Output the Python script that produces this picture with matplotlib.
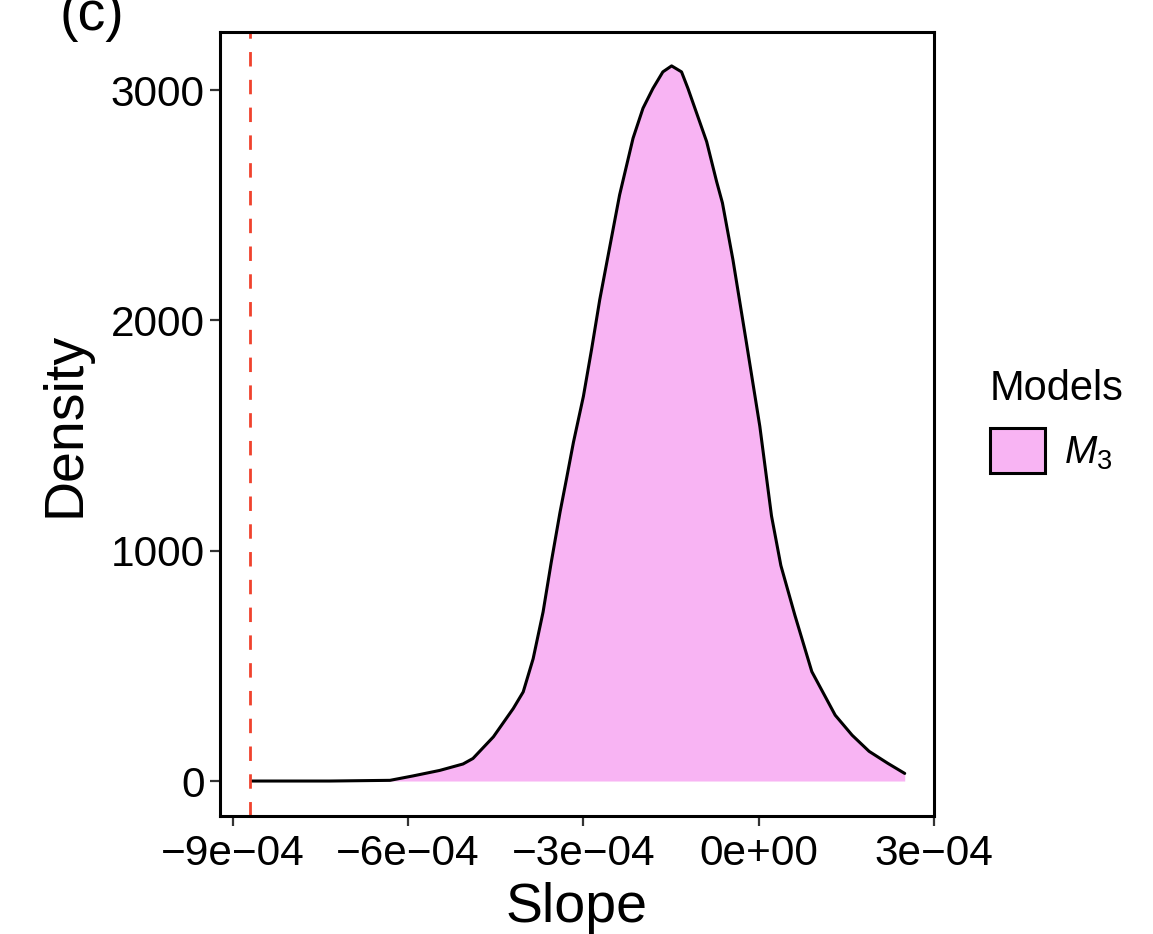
import matplotlib
matplotlib.use("Agg")
import matplotlib.pyplot as plt
from matplotlib.patches import Patch

plt.rcParams['font.family'] = ['Liberation Sans', 'DejaVu Sans']
plt.rcParams['mathtext.fontset'] = 'custom'
plt.rcParams['mathtext.rm'] = 'Liberation Sans'
plt.rcParams['mathtext.it'] = 'Liberation Sans:italic'

# posterior density of the slope
slope = [-8.67e-4, -7.34e-4, -6.31e-4, -5.92e-4, -5.46e-4, -5.06e-4, -4.89e-4,
         -4.54e-4, -4.20e-4, -4.03e-4, -3.86e-4, -3.69e-4, -3.55e-4, -3.40e-4,
         -3.29e-4, -3.17e-4, -3.00e-4, -2.86e-4, -2.72e-4, -2.38e-4, -2.15e-4,
         -1.98e-4, -1.81e-4, -1.64e-4, -1.49e-4, -1.32e-4, -1.21e-4, -1.07e-4,
         -0.89e-4, -0.72e-4, -0.62e-4, -0.44e-4, -0.21e-4, 0.02e-4, 0.22e-4,
         0.38e-4, 0.62e-4, 0.91e-4, 1.31e-4, 1.60e-4, 1.89e-4, 2.21e-4, 2.50e-4]
density = [0, 0, 3, 22, 46, 74, 98,
           192, 315, 387, 531, 734, 950, 1167,
           1311, 1471, 1670, 1874, 2090, 2545, 2791,
           2921, 3007, 3079, 3105, 3079, 3007, 2906,
           2776, 2603, 2510, 2263, 1904, 1540, 1151,
           936, 720, 475, 286, 199, 129, 77, 33]
ref_line = -8.70e-4
xticks = [-9e-4, -6e-4, -3e-4, 0, 3e-4]
xticklabels = ['\u22129e\u221204', '\u22126e\u221204', '\u22123e\u221204', '0e+00', '3e\u221204']
yticks = [0, 1000, 2000, 3000]

fill_col = '#F8B4F3'

fig = plt.figure(figsize=(11.53, 9.34), dpi=100)
ax = fig.add_axes([0.1908, 0.1263, 0.6192, 0.8394])

ax.fill_between(slope, density, 0, color=fill_col, lw=0)
ax.plot(slope, density, color='black', lw=2.2, solid_joinstyle='round', solid_capstyle='round')
ax.axvline(ref_line, color='#F0422D', lw=2.0, linestyle=(0, (5.2, 4.8)))

ax.set_xlim(-9.22e-4, 3.0e-4)
ax.set_ylim(-152, 3252)
ax.set_xticks(xticks)
ax.set_xticklabels(xticklabels)
ax.set_yticks(yticks)
ax.tick_params(labelsize=30.5, length=7, width=1.6, color='#333333')
ax.tick_params(axis='x', pad=6)
ax.tick_params(axis='y', pad=4)
for s in ax.spines.values():
    s.set_linewidth(2.2)

ax.set_xlabel('Slope', fontsize=40, labelpad=6)
ax.set_ylabel('Density', fontsize=40, labelpad=14)

handles = [Patch(facecolor=fill_col, edgecolor='black', linewidth=2.2, label='$M_3$')]
leg = ax.legend(handles=handles, title='Models', frameon=False, fontsize=28,
                title_fontsize=30, loc='upper left', bbox_to_anchor=(0.845, 0.622),
                bbox_transform=fig.transFigure, handlelength=1.41, handleheight=1.41,
                handletextpad=0.5, borderaxespad=0, alignment='left')

fig.text(0.052, 0.968, '(c)', fontsize=40, ha='left', va='baseline')

fig.savefig('out.png', dpi=100, facecolor='white')
